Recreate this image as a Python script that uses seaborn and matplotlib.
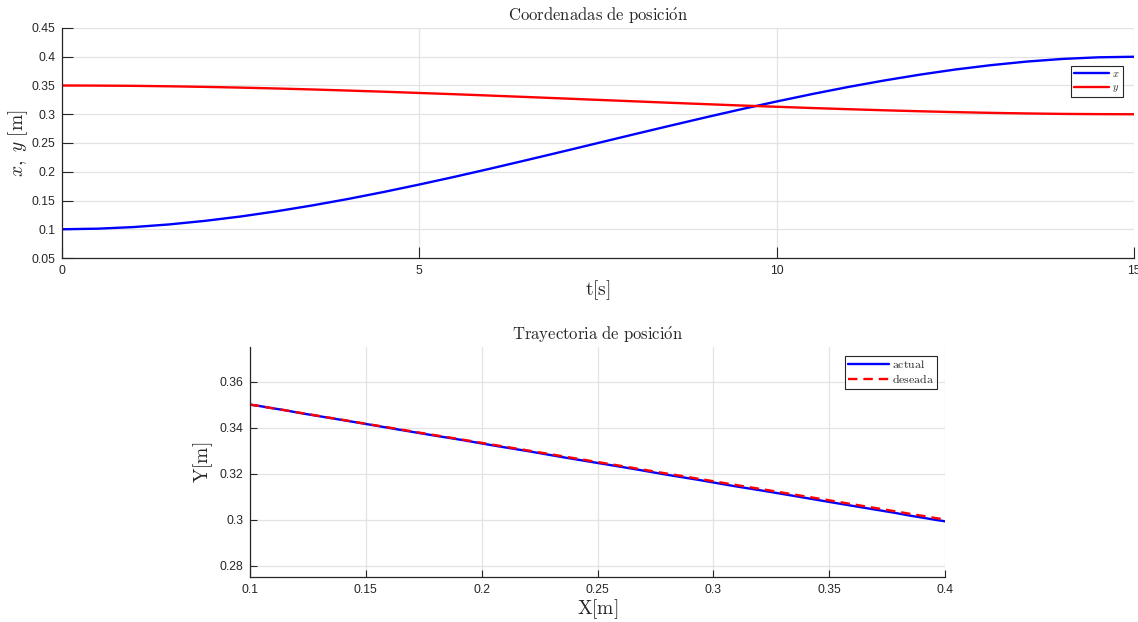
import numpy as np
import pandas as pd
import matplotlib
matplotlib.use("Agg")
import matplotlib.pyplot as plt
import seaborn as sns

# ---- data ----
t = [0, 0.5, 1, 1.5, 2, 2.5, 3, 3.5, 4, 4.5, 5, 5.5, 6, 6.5, 7, 7.5,
     8, 8.5, 9, 9.5, 10, 10.5, 11, 11.5, 12, 12.5, 13, 13.5, 14, 14.5, 15]
x_pos = [0.1000, 0.1010, 0.1038, 0.1084, 0.1146, 0.1222, 0.1312, 0.1414, 0.1526,
         0.1648, 0.1778, 0.1914, 0.2056, 0.2202, 0.2350, 0.2500, 0.2650, 0.2798,
         0.2944, 0.3086, 0.3222, 0.3352, 0.3474, 0.3586, 0.3688, 0.3778, 0.3854,
         0.3916, 0.3962, 0.3990, 0.4000]
y_pos = [0.3500, 0.3498, 0.3494, 0.3486, 0.3476, 0.3463, 0.3448, 0.3431, 0.3412,
         0.3392, 0.3370, 0.3348, 0.3324, 0.3300, 0.3275, 0.3250, 0.3225, 0.3200,
         0.3176, 0.3152, 0.3130, 0.3108, 0.3088, 0.3069, 0.3052, 0.3037, 0.3024,
         0.3014, 0.3006, 0.3002, 0.3000]
# trajectory: actual vs desired
x_act = x_pos
y_act = [0.3500, 0.3498, 0.3494, 0.3486, 0.3476, 0.3462, 0.3447, 0.3430, 0.3411,
         0.3390, 0.3368, 0.3346, 0.3321, 0.3297, 0.3271, 0.3246, 0.3221, 0.3195,
         0.3171, 0.3146, 0.3124, 0.3102, 0.3081, 0.3062, 0.3045, 0.3030, 0.3016,
         0.3006, 0.2998, 0.2994, 0.2992]
x_des = x_pos
y_des = y_pos

top_xticks = [0, 5, 10, 15]
top_yticks = [0.05, 0.1, 0.15, 0.2, 0.25, 0.3, 0.35, 0.4, 0.45]
bot_xticks = [0.1, 0.15, 0.2, 0.25, 0.3, 0.35, 0.4]
bot_yticks = [0.28, 0.3, 0.32, 0.34, 0.36]

sns.set_style("whitegrid")
plt.rcParams['font.family'] = ['Liberation Sans', 'DejaVu Sans']
plt.rcParams['mathtext.fontset'] = 'cm'

BLUE = (0, 0, 1)
RED = (1, 0, 0)
TICKC = '#262626'
GRIDC = '#e3e3e3'

fig = plt.figure(figsize=(11.38, 6.22), dpi=100)
fig.patch.set_facecolor('white')

def style_axes(ax, ticklen):
    ax.set_facecolor('white')
    for s in ['top', 'right']:
        ax.spines[s].set_visible(False)
    for s in ['left', 'bottom']:
        ax.spines[s].set_color(TICKC)
        ax.spines[s].set_linewidth(0.9)
    ax.grid(True, color=GRIDC, linewidth=0.9)
    ax.tick_params(axis='both', direction='in', length=ticklen, width=0.8,
                   colors=TICKC, labelsize=8.7, pad=5, left=True, bottom=True)

# ---- top subplot ----
ax1 = fig.add_axes([0.0545, 0.5852, 0.942, 0.3698])
df1 = pd.DataFrame({'t': t, 'x': x_pos, 'y': y_pos})
sns.lineplot(data=df1, x='t', y='x', ax=ax1, color=BLUE, linewidth=1.7, label=r'$x$')
sns.lineplot(data=df1, x='t', y='y', ax=ax1, color=RED, linewidth=1.7, label=r'$y$')
ax1.set_xlim(0, 15)
ax1.set_ylim(0.05, 0.45)
ax1.set_xticks(top_xticks)
ax1.set_xticklabels([str(v) for v in top_xticks])
ax1.set_yticks(top_yticks)
ax1.set_yticklabels(['0.05', '0.1', '0.15', '0.2', '0.25', '0.3', '0.35', '0.4', '0.45'])
style_axes(ax1, 8)
ax1.set_title(r'$\mathrm{Coordenadas\ de\ posici\acute{o}n}$', fontsize=12, pad=5)
ax1.set_xlabel(r'$\mathrm{t[s]}$', fontsize=14, labelpad=1)
ax1.set_ylabel(r'$x,\ y\ [\mathrm{m}]$', fontsize=14, labelpad=1)
leg1 = ax1.legend(loc='upper right', bbox_to_anchor=(0.9897, 0.835), fontsize=7.5,
                  frameon=True, fancybox=False, framealpha=1, edgecolor='#262626',
                  handlelength=3.4, handletextpad=0.3, borderpad=0.3, labelspacing=0.3,
                  borderaxespad=0)
leg1.get_frame().set_linewidth(0.8)

# ---- bottom subplot ----
ax2 = fig.add_axes([0.2197, 0.0723, 0.6107, 0.3698])
df_act = pd.DataFrame({'X': x_act, 'Y': y_act})
df_des = pd.DataFrame({'X': x_des, 'Y': y_des})
sns.lineplot(data=df_act, x='X', y='Y', ax=ax2, color=BLUE, linewidth=1.7,
             sort=False, label=r'$\mathrm{actual}$')
sns.lineplot(data=df_des, x='X', y='Y', ax=ax2, color=RED, linewidth=1.7,
             sort=False, linestyle=(0, (4, 2.5)), label=r'$\mathrm{deseada}$')
ax2.set_xlim(0.1, 0.4)
ax2.set_ylim(0.275, 0.375)
ax2.set_xticks(bot_xticks)
ax2.set_xticklabels(['0.1', '0.15', '0.2', '0.25', '0.3', '0.35', '0.4'])
ax2.set_yticks(bot_yticks)
ax2.set_yticklabels(['0.28', '0.3', '0.32', '0.34', '0.36'])
style_axes(ax2, 5)
ax2.set_title(r'$\mathrm{Trayectoria\ de\ posici\acute{o}n}$', fontsize=12, pad=5)
ax2.set_xlabel(r'$\mathrm{X[m]}$', fontsize=14, labelpad=1)
ax2.set_ylabel(r'$\mathrm{Y[m]}$', fontsize=14, labelpad=3)
leg2 = ax2.legend(loc='upper right', bbox_to_anchor=(0.9885, 0.961), fontsize=8.5,
                  frameon=True, fancybox=False, framealpha=1, edgecolor='#262626',
                  handlelength=3.4, handletextpad=0.3, borderpad=0.25, labelspacing=0.15,
                  borderaxespad=0)
leg2.get_frame().set_linewidth(0.8)

fig.savefig('out.png', dpi=100, facecolor='white')
